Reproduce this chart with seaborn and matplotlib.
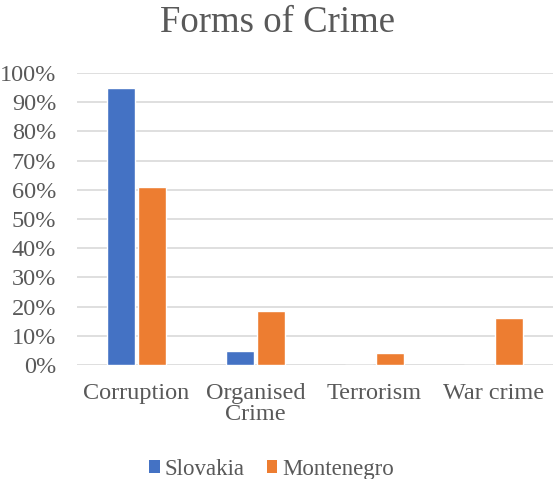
import matplotlib
matplotlib.use("Agg")
import matplotlib.pyplot as plt
import seaborn as sns
import pandas as pd
from matplotlib.ticker import PercentFormatter, MultipleLocator
from matplotlib.patches import Patch

categories = ["Corruption", "Organised\nCrime", "Terrorism", "War crime"]
series_names = ["Slovakia", "Montenegro"]
slovakia = [0.95, 0.048, 0.0, 0.0]
montenegro = [0.611, 0.184, 0.041, 0.16]
colors = ["#4472C4", "#ED7D31"]

df = pd.DataFrame({
    "category": categories * 2,
    "country": [series_names[0]] * 4 + [series_names[1]] * 4,
    "value": slovakia + montenegro,
})

sns.set_style("white")
plt.rcParams["font.family"] = ["Liberation Serif", "DejaVu Serif"]
txt = "#595959"
fs = 17.5

fig = plt.figure(figsize=(5.54, 4.79), dpi=100)
ax = fig.add_axes([0.139, 0.238, 0.859, 0.6096])

sns.barplot(data=df, x="category", y="value", hue="country",
            palette=colors, width=0.53, gap=0.11, ax=ax,
            saturation=1, legend=False, zorder=3)

ax.set_ylim(0, 1)
ax.set_xlim(-0.5, 3.5)
ax.yaxis.set_major_locator(MultipleLocator(0.1))
ax.yaxis.set_major_formatter(PercentFormatter(1.0, decimals=0))
ax.grid(axis="y", color="#d9d9d9", linewidth=1.2, zorder=0)
ax.grid(axis="x", visible=False)
for s in ax.spines.values():
    s.set_visible(False)
ax.set_xlabel("")
ax.set_ylabel("")
ax.tick_params(axis="y", length=0, pad=15, labelsize=fs, labelcolor=txt)
ax.tick_params(axis="x", length=0, pad=13, labelsize=fs, labelcolor=txt)
for lab in ax.get_xticklabels() + ax.get_yticklabels():
    lab.set_fontfamily("Liberation Serif")
for lab in ax.get_xticklabels():
    lab.set_linespacing(1.0)

fig.text(0.5, 0.953, "Forms of Crime", ha="center", va="center",
         fontsize=26.5, color=txt, fontfamily="Liberation Serif")

handles = [Patch(facecolor=c, edgecolor="none") for c in colors]
leg = fig.legend(handles, series_names, loc="center", bbox_to_anchor=(0.49, 0.02),
                 ncol=2, frameon=False, fontsize=16.5, labelcolor=txt,
                 handlelength=0.45, handleheight=0.5, handletextpad=0.2,
                 columnspacing=1.0, borderaxespad=0)
for t in leg.get_texts():
    t.set_fontfamily("Liberation Serif")

fig.savefig("out.png", dpi=100)
